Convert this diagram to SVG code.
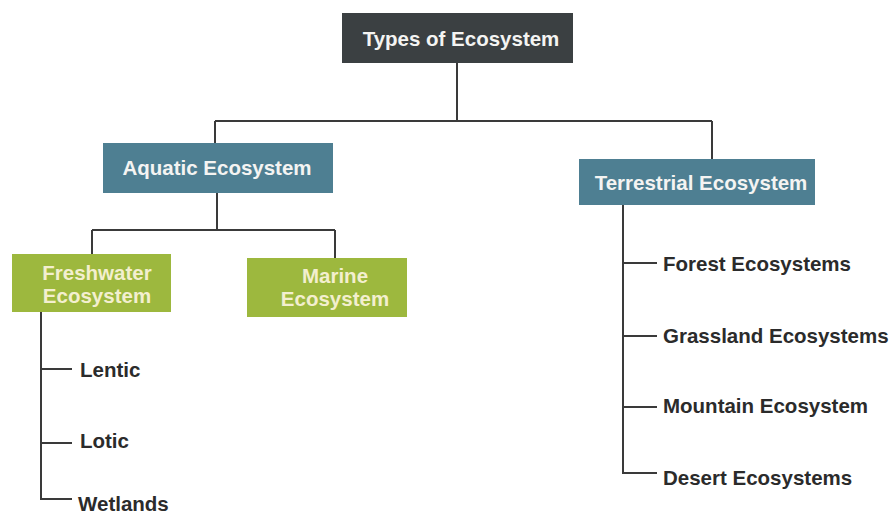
<svg xmlns="http://www.w3.org/2000/svg" width="892" height="522" viewBox="0 0 892 522">
<style>
.box-dark{fill:#3b4042}
.box-blue{fill:#4e7f92}
.box-green{fill:#9db83e}
.t{font-family:"Liberation Sans",Arial,sans-serif;font-weight:bold;font-size:20.5px}
.tw{fill:#f4f4f2;text-anchor:middle}
.tg{fill:#f3efcf;text-anchor:middle}
.tl{fill:#2b2b2b}
.c{fill:none;stroke:#3a3a3a;stroke-width:2}
</style>
<rect width="892" height="522" fill="#ffffff"/>
<g id="connectors">
<path class="c" d="M457,63 V121 M215,121 H712 M215,121 V143 M712,121 V159"/>
<path class="c" d="M217,193 V230 M92,230 H335 M92,230 V254 M335,230 V258"/>
<path class="c" d="M41,312 V499 H72 M41,369 H72 M41,443 H72"/>
<path class="c" d="M623,205 V473 H657 M623,263 H657 M623,336 H657 M623,407 H657"/>
</g>
<g id="types">
<rect class="box-dark" x="342" y="13" width="231" height="50"/>
<text class="t tw" x="461" y="46">Types of Ecosystem</text>
</g>
<g id="aquatic">
<rect class="box-blue" x="103" y="143" width="230" height="50"/>
<text class="t tw" x="217" y="175">Aquatic Ecosystem</text>
</g>
<g id="terrestrial">
<rect class="box-blue" x="579" y="159" width="236" height="46"/>
<text class="t tw" x="701" y="190">Terrestrial Ecosystem</text>
</g>
<g id="freshwater">
<rect class="box-green" x="12" y="254" width="159" height="58"/>
<text class="t tg" x="97" y="280">Freshwater</text>
<text class="t tg" x="97" y="303">Ecosystem</text>
</g>
<g id="marine">
<rect class="box-green" x="247" y="258" width="160" height="59"/>
<text class="t tg" x="335" y="283">Marine</text>
<text class="t tg" x="335" y="306">Ecosystem</text>
</g>
<g id="lentic"><text class="t tl" x="80" y="377">Lentic</text></g>
<g id="lotic"><text class="t tl" x="80" y="448">Lotic</text></g>
<g id="wetlands"><text class="t tl" x="78" y="511">Wetlands</text></g>
<g id="forest"><text class="t tl" x="663" y="271">Forest Ecosystems</text></g>
<g id="grassland"><text class="t tl" x="663" y="343">Grassland Ecosystems</text></g>
<g id="mountain"><text class="t tl" x="663" y="413">Mountain Ecosystem</text></g>
<g id="desert"><text class="t tl" x="663" y="485">Desert Ecosystems</text></g>
</svg>
